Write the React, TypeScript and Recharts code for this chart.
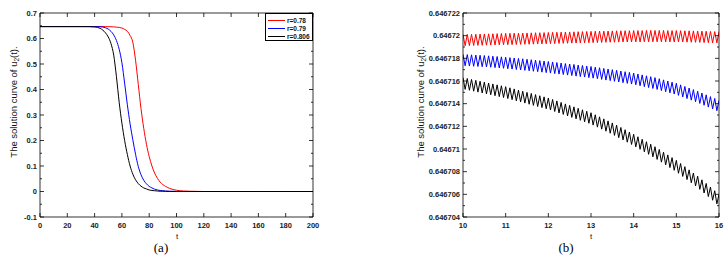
import React from 'react';
import { LineChart, Line, XAxis, YAxis } from 'recharts';

// ---- panel (a): u2(t) for three r values, t = 0..200
const tA = [0, 10, 20, 30, 36, 40, 44, 48, 50, 52, 54, 56, 58, 60, 62, 64, 66, 68, 70, 72, 74, 76, 78, 80, 82, 84, 86, 88, 90, 92, 95, 100, 105, 110, 120, 140, 160, 180, 200];
const redA = [0.6467, 0.6467, 0.6467, 0.6467, 0.6467, 0.6467, 0.6467, 0.6466, 0.6464, 0.6461, 0.6455, 0.6447, 0.6435, 0.641, 0.636, 0.628, 0.612, 0.585, 0.515, 0.42, 0.325, 0.248, 0.185, 0.137, 0.1, 0.072, 0.052, 0.037, 0.027, 0.02, 0.012, 0.005, 0.002, 0.001, 0, 0, 0, 0, 0];
const blueA = [0.6467, 0.6467, 0.6467, 0.6467, 0.6467, 0.6464, 0.6462, 0.642, 0.637, 0.628, 0.614, 0.592, 0.558, 0.505, 0.425, 0.34, 0.265, 0.203, 0.146, 0.098, 0.066, 0.044, 0.03, 0.02, 0.014, 0.009, 0.006, 0.004, 0.003, 0.002, 0.001, 0.0003, 0.0001, 0, 0, 0, 0, 0, 0];
const blackA = [0.6467, 0.6467, 0.6467, 0.6467, 0.6466, 0.6455, 0.64, 0.622, 0.606, 0.58, 0.535, 0.45, 0.35, 0.268, 0.2, 0.145, 0.1, 0.068, 0.046, 0.031, 0.021, 0.014, 0.01, 0.006, 0.004, 0.003, 0.002, 0.001, 0.001, 0.0005, 0.0002, 0, 0, 0, 0, 0, 0, 0, 0];
const xTicksA = [0, 20, 40, 60, 80, 100, 120, 140, 160, 180, 200];
const yTicksA = [-0.1, 0, 0.1, 0.2, 0.3, 0.4, 0.5, 0.6, 0.7];
const yMinorA = [-0.05, 0.05, 0.15, 0.25, 0.35, 0.45, 0.55, 0.65];

// ---- panel (b): zoom on t = 10..16, sampled every 0.05
// values are u2(t) - 0.6467, in units of 1e-6
const tStartB = 10;
const tStepB = 0.05;
const redB = [
  20.10, 19.11, 20.11, 19.12, 20.12, 19.13, 20.13, 19.14, 20.14, 19.15,
  20.15, 19.16, 20.16, 19.17, 20.17, 19.18, 20.18, 19.19, 20.19, 19.20,
  20.20, 19.20, 20.21, 19.21, 20.22, 19.22, 20.22, 19.23, 20.23, 19.24,
  20.24, 19.24, 20.25, 19.25, 20.26, 19.26, 20.26, 19.27, 20.27, 19.28,
  20.28, 19.29, 20.29, 19.30, 20.30, 19.31, 20.31, 19.32, 20.32, 19.33,
  20.33, 19.34, 20.34, 19.35, 20.35, 19.36, 20.36, 19.37, 20.37, 19.38,
  20.38, 19.38, 20.39, 19.39, 20.40, 19.40, 20.40, 19.41, 20.41, 19.42,
  20.42, 19.42, 20.43, 19.43, 20.43, 19.44, 20.44, 19.44, 20.44, 19.45,
  20.45, 19.45, 20.45, 19.45, 20.45, 19.46, 20.46, 19.46, 20.46, 19.46,
  20.46, 19.46, 20.46, 19.46, 20.46, 19.45, 20.45, 19.45, 20.45, 19.45,
  20.45, 19.45, 20.44, 19.44, 20.43, 19.43, 20.43, 19.42, 20.42, 19.41,
  20.41, 19.40, 20.40, 19.39, 20.39, 19.38, 20.37, 19.37, 20.36, 19.36,
  20.35,
];
const blueB = [
  18.35, 17.34, 18.33, 17.32, 18.31, 17.30, 18.29, 17.28, 18.27, 17.26,
  18.25, 17.24, 18.22, 17.21, 18.19, 17.18, 18.16, 17.15, 18.13, 17.12,
  18.10, 17.08, 18.06, 17.05, 18.03, 17.01, 17.99, 16.97, 17.96, 16.94,
  17.92, 16.90, 17.88, 16.86, 17.84, 16.82, 17.80, 16.78, 17.76, 16.74,
  17.72, 16.70, 17.68, 16.65, 17.63, 16.61, 17.59, 16.57, 17.54, 16.52,
  17.50, 16.48, 17.46, 16.43, 17.41, 16.39, 17.37, 16.35, 17.32, 16.30,
  17.28, 16.25, 17.22, 16.20, 17.17, 16.14, 17.11, 16.08, 17.06, 16.03,
  17.00, 15.97, 16.94, 15.91, 16.88, 15.85, 16.82, 15.79, 16.76, 15.73,
  16.70, 15.66, 16.62, 15.58, 16.54, 15.50, 16.46, 15.42, 16.38, 15.34,
  16.30, 15.25, 16.20, 15.15, 16.10, 15.05, 16.00, 14.95, 15.90, 14.85,
  15.80, 14.73, 15.66, 14.59, 15.52, 14.45, 15.38, 14.31, 15.24, 14.17,
  15.10, 14.02, 14.94, 13.86, 14.78, 13.70, 14.62, 13.54, 14.46, 13.38,
  14.30,
];
const blackB = [
  16.30, 15.26, 16.22, 15.18, 16.14, 15.10, 16.06, 15.02, 15.98, 14.94,
  15.90, 14.86, 15.82, 14.78, 15.74, 14.70, 15.66, 14.62, 15.58, 14.54,
  15.50, 14.45, 15.40, 14.35, 15.30, 14.25, 15.20, 14.15, 15.10, 14.05,
  15.00, 13.95, 14.90, 13.85, 14.80, 13.75, 14.70, 13.65, 14.60, 13.55,
  14.50, 13.44, 14.37, 13.31, 14.24, 13.18, 14.11, 13.05, 13.98, 12.92,
  13.85, 12.79, 13.72, 12.66, 13.59, 12.53, 13.46, 12.40, 13.33, 12.27,
  13.20, 12.11, 13.02, 11.93, 12.84, 11.75, 12.66, 11.57, 12.48, 11.39,
  12.30, 11.20, 12.10, 11.00, 11.90, 10.80, 11.70, 10.60, 11.50, 10.40,
  11.30, 10.19, 11.08, 9.97, 10.86, 9.75, 10.64, 9.53, 10.42, 9.31,
  10.20, 9.08, 9.96, 8.84, 9.72, 8.60, 9.48, 8.36, 9.24, 8.12,
  9.00, 7.86, 8.72, 7.58, 8.44, 7.30, 8.16, 7.02, 7.88, 6.74,
  7.60, 6.44, 7.28, 6.12, 6.96, 5.80, 6.64, 5.48, 6.32, 5.16,
  6.00,
];
const baseB = 0.6467;
const xTicksB = [10, 11, 12, 13, 14, 15, 16];
const yTicksB = [0.646704, 0.646706, 0.646708, 0.64671, 0.646712, 0.646714, 0.646716, 0.646718, 0.64672, 0.646722];
const yMinorB = [0.646705, 0.646707, 0.646709, 0.646711, 0.646713, 0.646715, 0.646717, 0.646719, 0.646721];

const seriesNames = ['r=0.78', 'r=0.79', 'r=0.806'];
const seriesColors = ['#ff0000', '#0000ff', '#000000'];

const dataA = tA.map((t, i) => ({ t, red: redA[i], blue: blueA[i], black: blackA[i] }));
const dataB = redB.map((r, i) => ({
  t: Math.round((tStartB + i * tStepB) * 100) / 100,
  red: baseB + r * 1e-6,
  blue: baseB + blueB[i] * 1e-6,
  black: baseB + blackB[i] * 1e-6,
}));

const tickFont = { fontFamily: '"Liberation Sans", Arial, sans-serif', fontSize: 7.5, fontWeight: 700, fill: '#222' };

const isIn = (list: number[], v: number) => list.some((m) => Math.abs(m - v) < 1e-10);

// MATLAB style ticks: pointing inwards, minor ticks without labels
const makeTick = (side: string, majors: number[], fmt: (v: number) => string) => (p: any) => {
  const { x, y } = p;
  const v = p.payload.value;
  const major = isIn(majors, v);
  const len = major ? 4 : 2;
  if (side === 'left') {
    return (
      <g>
        <line x1={x} y1={y} x2={x + len} y2={y} stroke="#000" strokeWidth={0.8} />
        {major && <text x={x - 3} y={y} dy="0.35em" textAnchor="end" style={tickFont}>{fmt(v)}</text>}
      </g>
    );
  }
  if (side === 'right') {
    return <line x1={x} y1={y} x2={x - len} y2={y} stroke="#000" strokeWidth={0.8} />;
  }
  if (side === 'top') {
    return <line x1={x} y1={y} x2={x} y2={y + len} stroke="#000" strokeWidth={0.8} />;
  }
  return (
    <g>
      <line x1={x} y1={y} x2={x} y2={y - len} stroke="#000" strokeWidth={0.8} />
      <text x={x} y={y + 8} dy="0.35em" textAnchor="middle" style={tickFont}>{fmt(v)}</text>
    </g>
  );
};

const fmtA = (v: number) => String(Math.round(v * 10) / 10);
const fmtB = (v: number) => String(Number(v.toFixed(6)));
const fmtT = (v: number) => String(v);

const yLabelStyle: React.CSSProperties = {
  position: 'absolute',
  fontFamily: '"Liberation Sans", Arial, sans-serif',
  fontSize: 9.5,
  whiteSpace: 'nowrap',
  transform: 'translate(-50%, -50%) rotate(-90deg)',
  color: '#111',
};
const smallLabel: React.CSSProperties = {
  position: 'absolute',
  fontFamily: '"Liberation Sans", Arial, sans-serif',
  fontSize: 8,
  transform: 'translate(-50%, -50%)',
  color: '#111',
};
const capStyle: React.CSSProperties = {
  position: 'absolute',
  fontFamily: '"Liberation Serif", "Times New Roman", serif',
  fontSize: 13,
  transform: 'translate(-50%, -50%)',
  color: '#000',
};

const YLabel = ({ x, y }: { x: number; y: number }) => (
  <div style={{ ...yLabelStyle, left: x, top: y }}>
    The solution curve of u<sub style={{ fontSize: 6.5 }}>2</sub>(t).
  </div>
);

const Panel = ({ data, xDomain, xTicks, yDomain, yTicks, yMinor, fmtY, lineType, yAxisWidth, marginRight }: any) => (
  <LineChart width={364} height={260} data={data} margin={{ top: 12, right: marginRight - 1, bottom: 23, left: 0 }}>
    <YAxis yAxisId="l" type="number" domain={yDomain} ticks={[...yTicks, ...yMinor]} interval={0} width={yAxisWidth}
      tickSize={0} tickMargin={0} allowDataOverflow stroke="#000" strokeWidth={0.8} tick={makeTick('left', yTicks, fmtY)} />
    <YAxis yAxisId="r" orientation="right" type="number" domain={yDomain} ticks={[...yTicks, ...yMinor]} interval={0} width={1}
      tickSize={0} tickMargin={0} allowDataOverflow stroke="#000" strokeWidth={0.8} tick={makeTick('right', yTicks, fmtY)} />
    <XAxis xAxisId="b" dataKey="t" type="number" domain={xDomain} ticks={xTicks} interval={0} height={20}
      tickSize={0} tickMargin={0} allowDataOverflow stroke="#000" strokeWidth={0.8} tick={makeTick('bottom', xTicks, fmtT)} />
    <XAxis xAxisId="tp" orientation="top" dataKey="t" type="number" domain={xDomain} ticks={xTicks} interval={0} height={1}
      tickSize={0} tickMargin={0} allowDataOverflow stroke="#000" strokeWidth={0.8} tick={makeTick('top', xTicks, fmtT)} />
    <Line xAxisId="b" yAxisId="l" type={lineType} dataKey="red" stroke={seriesColors[0]} strokeWidth={1} dot={false} isAnimationActive={false} />
    <Line xAxisId="b" yAxisId="l" type={lineType} dataKey="blue" stroke={seriesColors[1]} strokeWidth={1} dot={false} isAnimationActive={false} />
    <Line xAxisId="b" yAxisId="l" type={lineType} dataKey="black" stroke={seriesColors[2]} strokeWidth={1} dot={false} isAnimationActive={false} />
  </LineChart>
);

export default function App() {
  return (
    <div style={{ position: 'absolute', left: 0, top: 0, width: 728, height: 260, background: '#fff', overflow: 'hidden' }}>
      <div style={{ position: 'absolute', left: 0, top: 0 }}>
        <Panel data={dataA} xDomain={[0, 200]} xTicks={xTicksA} yDomain={[-0.1, 0.7]} yTicks={yTicksA} yMinor={yMinorA}
          fmtY={fmtA} lineType="monotone" yAxisWidth={40} marginRight={51} />
      </div>
      <div style={{ position: 'absolute', left: 364, top: 0 }}>
        <Panel data={dataB} xDomain={[10, 16]} xTicks={xTicksB} yDomain={[0.646704, 0.646722]} yTicks={yTicksB} yMinor={yMinorB}
          fmtY={fmtB} lineType="linear" yAxisWidth={99} marginRight={9} />
      </div>

      {/* legend of panel (a) */}
      <div style={{ position: 'absolute', left: 265, top: 13, width: 48, height: 28, boxSizing: 'border-box', border: '0.8px solid #000', background: '#fff' }}>
        {seriesNames.map((name, i) => (
          <div key={name} style={{ position: 'absolute', left: 2, top: 2 + i * 8.3, height: 8, display: 'flex', alignItems: 'center' }}>
            <div style={{ width: 17, height: 1, background: seriesColors[i] }} />
            <span style={{ marginLeft: 2, fontFamily: '"Liberation Sans", Arial, sans-serif', fontSize: 6.5, fontWeight: 700, color: '#111' }}>{name}</span>
          </div>
        ))}
      </div>

      <YLabel x={14} y={102} />
      <YLabel x={421} y={102} />
      <div style={{ ...smallLabel, left: 177, top: 236 }}>t</div>
      <div style={{ ...smallLabel, left: 591, top: 236 }}>t</div>
      <div style={{ ...capStyle, left: 161, top: 248 }}>(a)</div>
      <div style={{ ...capStyle, left: 566, top: 248 }}>(b)</div>
    </div>
  );
}
